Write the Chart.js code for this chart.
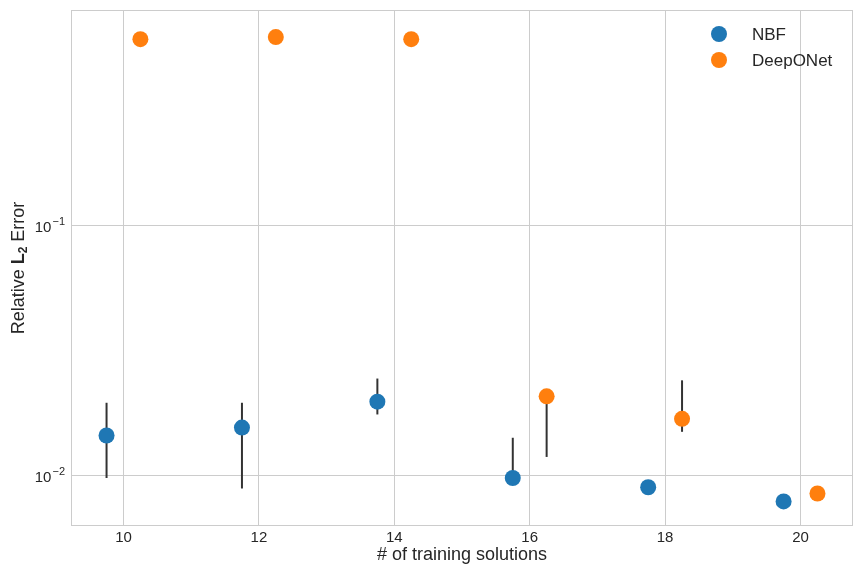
<!DOCTYPE html>
<html>
<head>
<meta charset="utf-8">
<script src="https://cdn.jsdelivr.net/npm/chart.js@4/dist/chart.umd.min.js"></script>
<style>
  html, body { margin: 0; padding: 0; background: #fff; }
  #wrap { width: 864px; height: 576px; }
</style>
</head>
<body>
<div id="wrap"><canvas id="errChart" width="864" height="576"></canvas></div>
<script>
// x positions (number of training solutions, dodged left/right)
const nbfX = [9.75, 11.75, 13.75, 15.75, 17.75, 19.75];
const deepX = [10.25, 12.25, 14.25, 16.25, 18.25, 20.25];
// relative L2 error
const nbfErr = [0.0145, 0.0156, 0.0198, 0.0098, 0.0090, 0.0079];
const nbfLow = [0.0098, 0.0089, 0.0176, 0.0095, 0.0090, 0.0079];
const nbfHigh = [0.0196, 0.0196, 0.0245, 0.0142, 0.0090, 0.0079];
const deepErr = [0.558, 0.569, 0.558, 0.0208, 0.0169, 0.0085];
const deepLow = [0.558, 0.569, 0.558, 0.0119, 0.0150, 0.0085];
const deepHigh = [0.558, 0.569, 0.558, 0.0208, 0.0241, 0.0085];
// ticks
const xTicks = [10, 12, 14, 16, 18, 20];
const yTicks = [0.01, 0.1];
const yTickExp = ['\u22122', '\u22121'];

const textColor = '#262626';
const gridColor = '#cccccc';
const fontFam = '"Liberation Sans", Arial, sans-serif';

function pts(xs, ys) {
  return xs.map(function(x, i) { return {x: x, y: ys[i]}; });
}

// vertical error bars, drawn under the markers
var errorBars = {
  id: 'errorBars',
  beforeDatasetsDraw: function(chart) {
    var ctx = chart.ctx;
    var xs = chart.scales.x, ys = chart.scales.y;
    var sets = [[nbfX, nbfLow, nbfHigh], [deepX, deepLow, deepHigh]];
    ctx.save();
    ctx.strokeStyle = '#333333';
    ctx.lineWidth = 2;
    sets.forEach(function(s) {
      s[0].forEach(function(x, i) {
        if (s[1][i] === s[2][i]) return;
        var px = xs.getPixelForValue(x);
        ctx.beginPath();
        ctx.moveTo(px, ys.getPixelForValue(s[1][i]));
        ctx.lineTo(px, ys.getPixelForValue(s[2][i]));
        ctx.stroke();
      });
    });
    ctx.restore();
  }
};

// frame, y tick labels, y label with bold L2, legend
var extras = {
  id: 'extras',
  afterDraw: function(chart) {
    var ctx = chart.ctx;
    var a = chart.chartArea;
    var ys = chart.scales.y;
    ctx.save();
    ctx.strokeStyle = gridColor;
    ctx.lineWidth = 1;
    ctx.strokeRect(a.left + 0.5, a.top + 0.5, a.right - a.left - 1, a.bottom - a.top - 1);

    // y tick labels 10^-n
    ctx.fillStyle = textColor;
    ctx.textBaseline = 'alphabetic';
    ctx.textAlign = 'right';
    yTicks.forEach(function(v, i) {
      var py = ys.getPixelForValue(v);
      ctx.font = '11px ' + fontFam;
      var we = ctx.measureText(yTickExp[i]).width;
      ctx.fillText(yTickExp[i], a.left - 6, py - 0.5);
      ctx.font = '15px ' + fontFam;
      ctx.fillText('10', a.left - 6 - we - 1, py + 6.5);
    });
    ctx.restore();

    // y axis title
    ctx.save();
    ctx.translate(19, (a.top + a.bottom) / 2);
    ctx.rotate(-Math.PI / 2);
    ctx.fillStyle = textColor;
    ctx.textBaseline = 'middle';
    var p1 = 'Relative ', p3 = ' Error';
    ctx.font = '18px ' + fontFam;
    var w1 = ctx.measureText(p1).width, w3 = ctx.measureText(p3).width;
    ctx.font = 'bold 18px ' + fontFam;
    var wL = ctx.measureText('L').width;
    ctx.font = 'bold 12px ' + fontFam;
    var w2 = ctx.measureText('2').width;
    var total = w1 + wL + w2 + w3;
    var x0 = -total / 2;
    ctx.textAlign = 'left';
    ctx.font = '18px ' + fontFam;
    ctx.fillText(p1, x0, 0);
    ctx.font = 'bold 18px ' + fontFam;
    ctx.fillText('L', x0 + w1, 0);
    ctx.font = 'bold 12px ' + fontFam;
    ctx.fillText('2', x0 + w1 + wL, 5);
    ctx.font = '18px ' + fontFam;
    ctx.fillText(p3, x0 + w1 + wL + w2, 0);
    ctx.restore();

    // legend
    ctx.save();
    var items = [['NBF', '#1f77b4'], ['DeepONet', '#ff7f0e']];
    ctx.font = '17px ' + fontFam;
    ctx.textBaseline = 'middle';
    ctx.textAlign = 'left';
    items.forEach(function(it, i) {
      var cy = 34 + i * 26;
      ctx.beginPath();
      ctx.arc(719, cy, 8, 0, Math.PI * 2);
      ctx.fillStyle = it[1];
      ctx.fill();
      ctx.fillStyle = textColor;
      ctx.fillText(it[0], 752, cy + 1);
    });
    ctx.restore();
  }
};

var ctx = document.getElementById('errChart').getContext('2d');
var errChart = new Chart(ctx, {
  type: 'scatter',
  data: {
    datasets: [{
      label: 'NBF',
      data: pts(nbfX, nbfErr),
      backgroundColor: '#1f77b4',
      borderColor: '#1f77b4',
      pointRadius: 8,
      pointHoverRadius: 8,
      borderWidth: 0
    }, {
      label: 'DeepONet',
      data: pts(deepX, deepErr),
      backgroundColor: '#ff7f0e',
      borderColor: '#ff7f0e',
      pointRadius: 8,
      pointHoverRadius: 8,
      borderWidth: 0
    }]
  },
  options: {
    responsive: false,
    animation: false,
    layout: { padding: { top: 10, right: 11, left: 0, bottom: 10 } },
    plugins: {
      legend: { display: false },
      tooltip: { enabled: false }
    },
    scales: {
      x: {
        type: 'linear',
        min: 9.225,
        max: 20.775,
        afterBuildTicks: function(s) { s.ticks = xTicks.map(function(v) { return {value: v}; }); },
        afterFit: function(s) { s.height = 40; },
        grid: { color: gridColor, drawTicks: false },
        border: { display: false },
        ticks: {
          color: textColor,
          font: { family: fontFam, size: 15 },
          padding: 3
        },
        title: {
          display: true,
          text: '# of training solutions',
          color: textColor,
          font: { family: fontFam, size: 18 },
          padding: { top: 0, bottom: 0 }
        }
      },
      y: {
        type: 'logarithmic',
        min: 0.0063,
        max: 0.73,
        afterBuildTicks: function(s) { s.ticks = yTicks.map(function(v) { return {value: v}; }); },
        afterFit: function(s) { s.width = 71; },
        grid: { color: gridColor, drawTicks: false },
        border: { display: false },
        ticks: { display: false }
      }
    }
  },
  plugins: [errorBars, extras]
});
</script>
</body>
</html>
